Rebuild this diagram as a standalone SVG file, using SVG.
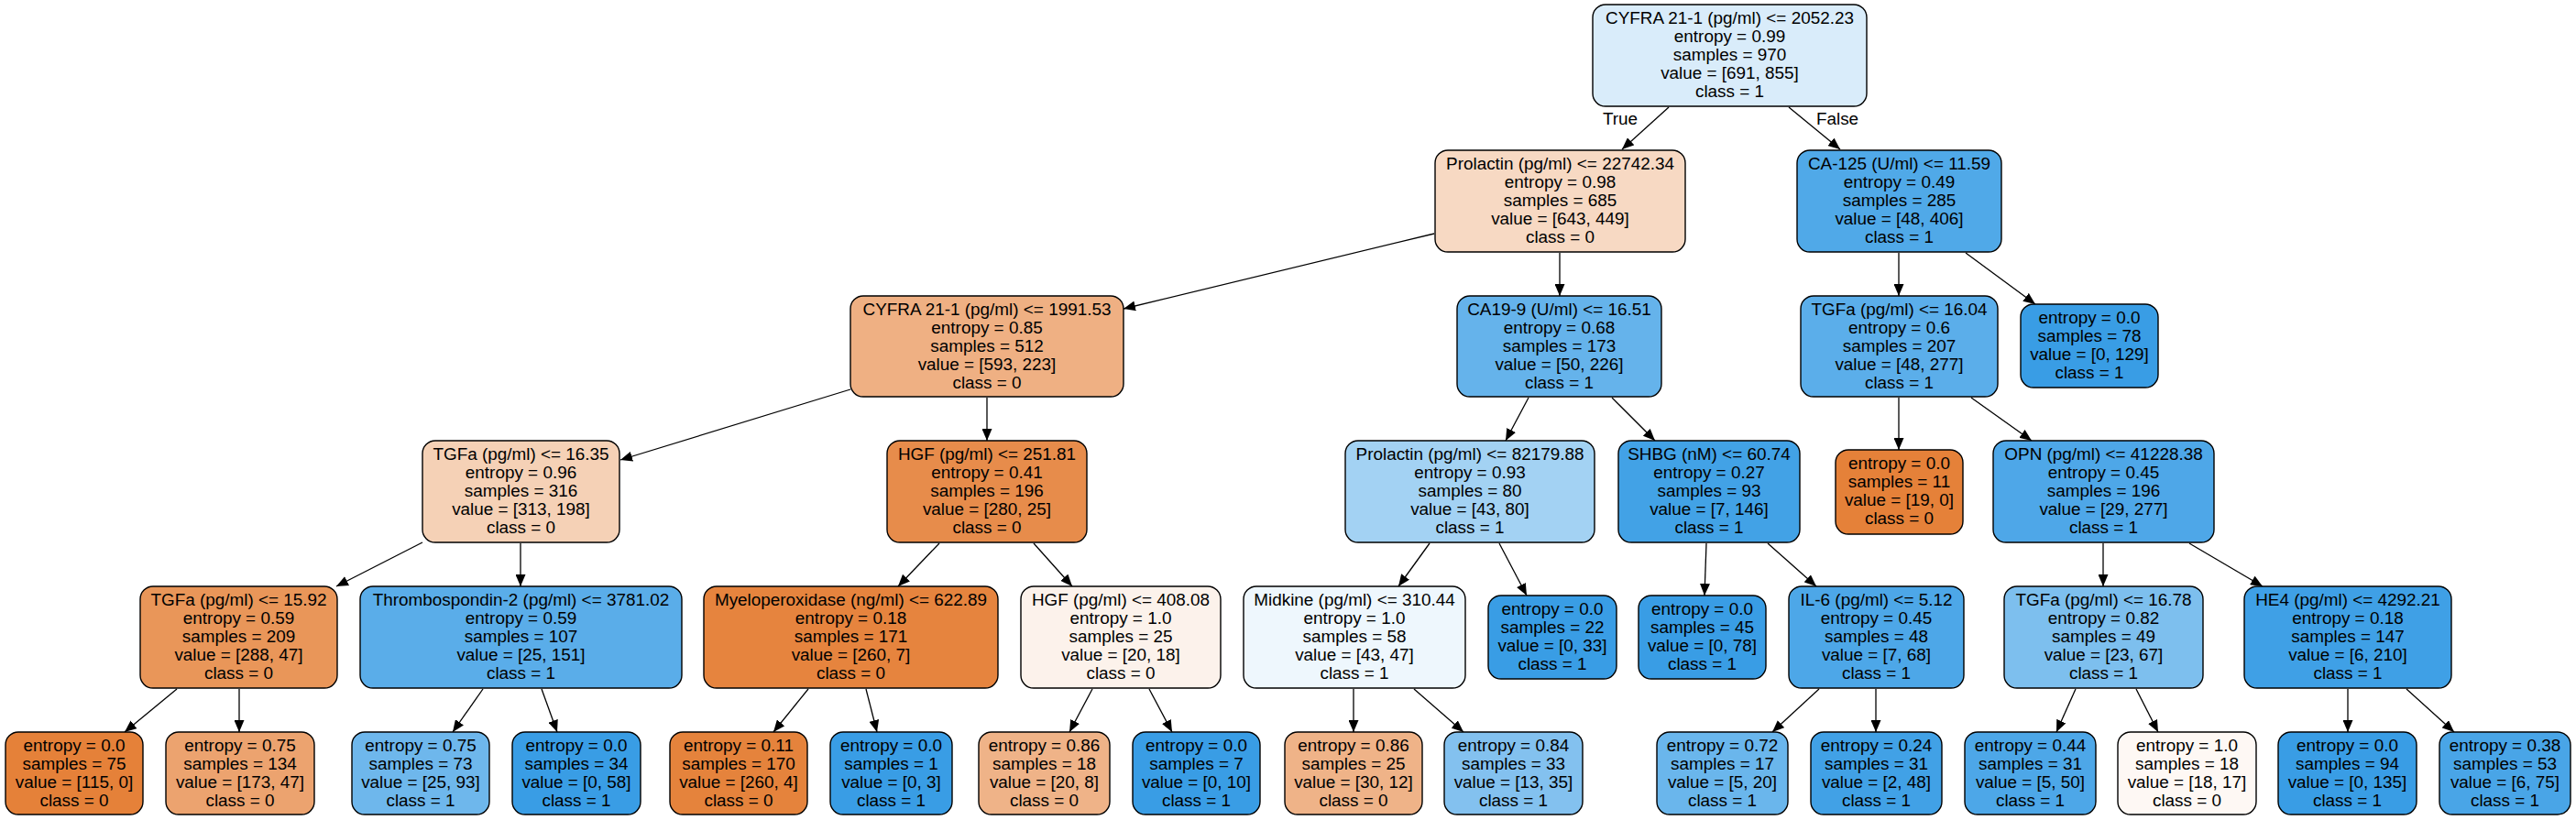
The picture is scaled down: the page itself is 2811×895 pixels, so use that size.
<svg xmlns="http://www.w3.org/2000/svg" width="2811" height="895" viewBox="0 0 2811 895">
<style>
rect.n{stroke:#000;stroke-width:1.4}
text{font-family:"Liberation Sans",Arial,sans-serif;font-size:18.9px;fill:#000;text-anchor:middle}
.e line{stroke:#000;stroke-width:1.3;marker-end:url(#ah)}
</style>
<defs>
<marker id="ah" markerUnits="userSpaceOnUse" markerWidth="14" markerHeight="11" refX="13" refY="5.5" orient="auto">
<path d="M0,0 L13,5.5 L0,11 z" fill="#000"/>
</marker>
</defs>
<rect width="2811" height="895" fill="#fff"/>
<g class="e" id="edges">
<line x1="1821" y1="117" x2="1770" y2="163"/>
<line x1="1952" y1="117" x2="2008" y2="163"/>
<line x1="1565" y1="255" x2="1226" y2="337"/>
<line x1="1702" y1="276" x2="1702" y2="323"/>
<line x1="2072" y1="276" x2="2072" y2="323"/>
<line x1="2145" y1="276" x2="2221" y2="332"/>
<line x1="928" y1="425" x2="677" y2="502"/>
<line x1="1077" y1="434" x2="1077" y2="481"/>
<line x1="1668" y1="434" x2="1643" y2="481"/>
<line x1="1759" y1="434" x2="1806" y2="481"/>
<line x1="2072" y1="434" x2="2072" y2="491"/>
<line x1="2151" y1="434" x2="2217" y2="481"/>
<line x1="461" y1="592" x2="367" y2="640"/>
<line x1="568" y1="593" x2="568" y2="640"/>
<line x1="1025" y1="593" x2="980" y2="640"/>
<line x1="1128" y1="593" x2="1170" y2="640"/>
<line x1="1560" y1="593" x2="1526" y2="640"/>
<line x1="1636" y1="593" x2="1666" y2="650"/>
<line x1="1862" y1="593" x2="1860" y2="650"/>
<line x1="1929" y1="593" x2="1982" y2="640"/>
<line x1="2295" y1="593" x2="2295" y2="640"/>
<line x1="2389" y1="593" x2="2469" y2="640"/>
<line x1="193" y1="752" x2="136" y2="799"/>
<line x1="261" y1="752" x2="261" y2="799"/>
<line x1="527" y1="752" x2="494" y2="799"/>
<line x1="591" y1="752" x2="608" y2="799"/>
<line x1="882" y1="752" x2="844" y2="799"/>
<line x1="945" y1="752" x2="957" y2="799"/>
<line x1="1192" y1="752" x2="1167" y2="799"/>
<line x1="1254" y1="752" x2="1279" y2="799"/>
<line x1="1477" y1="752" x2="1477" y2="799"/>
<line x1="1543" y1="752" x2="1597" y2="799"/>
<line x1="1985" y1="752" x2="1934" y2="799"/>
<line x1="2047" y1="752" x2="2047" y2="799"/>
<line x1="2265" y1="752" x2="2244" y2="799"/>
<line x1="2331" y1="752" x2="2355" y2="799"/>
<line x1="2562" y1="752" x2="2562" y2="799"/>
<line x1="2626" y1="752" x2="2678" y2="799"/>
<text x="1768" y="136">True</text>
<text x="2005" y="136">False</text>
</g>

<g id="node0"><rect class="n" x="1738" y="5" width="299" height="111" rx="14" fill="#d9ecfa"/>
<text x="1887.5" y="26">CYFRA 21-1 (pg/ml) &lt;= 2052.23<tspan x="1887.5" dy="20">entropy = 0.99</tspan><tspan x="1887.5" dy="20">samples = 970</tspan><tspan x="1887.5" dy="20">value = [691, 855]</tspan><tspan x="1887.5" dy="20">class = 1</tspan></text></g>

<g id="node1"><rect class="n" x="1566" y="164" width="273" height="111" rx="14" fill="#f7d9c3"/>
<text x="1702.5" y="185">Prolactin (pg/ml) &lt;= 22742.34<tspan x="1702.5" dy="20">entropy = 0.98</tspan><tspan x="1702.5" dy="20">samples = 685</tspan><tspan x="1702.5" dy="20">value = [643, 449]</tspan><tspan x="1702.5" dy="20">class = 0</tspan></text></g>

<g id="node2"><rect class="n" x="1961" y="164" width="223" height="111" rx="14" fill="#50a9e8"/>
<text x="2072.5" y="185">CA-125 (U/ml) &lt;= 11.59<tspan x="2072.5" dy="20">entropy = 0.49</tspan><tspan x="2072.5" dy="20">samples = 285</tspan><tspan x="2072.5" dy="20">value = [48, 406]</tspan><tspan x="2072.5" dy="20">class = 1</tspan></text></g>

<g id="node3"><rect class="n" x="928" y="323" width="298" height="110" rx="14" fill="#efb083"/>
<text x="1077" y="344">CYFRA 21-1 (pg/ml) &lt;= 1991.53<tspan x="1077" dy="20">entropy = 0.85</tspan><tspan x="1077" dy="20">samples = 512</tspan><tspan x="1077" dy="20">value = [593, 223]</tspan><tspan x="1077" dy="20">class = 0</tspan></text></g>

<g id="node4"><rect class="n" x="1590" y="323" width="223" height="110" rx="14" fill="#65b3eb"/>
<text x="1701.5" y="344">CA19-9 (U/ml) &lt;= 16.51<tspan x="1701.5" dy="20">entropy = 0.68</tspan><tspan x="1701.5" dy="20">samples = 173</tspan><tspan x="1701.5" dy="20">value = [50, 226]</tspan><tspan x="1701.5" dy="20">class = 1</tspan></text></g>

<g id="node5"><rect class="n" x="1965" y="323" width="215" height="110" rx="14" fill="#5baeea"/>
<text x="2072.5" y="344">TGFa (pg/ml) &lt;= 16.04<tspan x="2072.5" dy="20">entropy = 0.6</tspan><tspan x="2072.5" dy="20">samples = 207</tspan><tspan x="2072.5" dy="20">value = [48, 277]</tspan><tspan x="2072.5" dy="20">class = 1</tspan></text></g>

<g id="node6"><rect class="n" x="2205" y="332" width="150" height="91" rx="14" fill="#399de5"/>
<text x="2280" y="353">entropy = 0.0<tspan x="2280" dy="20">samples = 78</tspan><tspan x="2280" dy="20">value = [0, 129]</tspan><tspan x="2280" dy="20">class = 1</tspan></text></g>

<g id="node7"><rect class="n" x="461" y="481" width="215" height="111" rx="14" fill="#f5d1b6"/>
<text x="568.5" y="502">TGFa (pg/ml) &lt;= 16.35<tspan x="568.5" dy="20">entropy = 0.96</tspan><tspan x="568.5" dy="20">samples = 316</tspan><tspan x="568.5" dy="20">value = [313, 198]</tspan><tspan x="568.5" dy="20">class = 0</tspan></text></g>

<g id="node8"><rect class="n" x="968" y="481" width="218" height="111" rx="14" fill="#e78c4b"/>
<text x="1077" y="502">HGF (pg/ml) &lt;= 251.81<tspan x="1077" dy="20">entropy = 0.41</tspan><tspan x="1077" dy="20">samples = 196</tspan><tspan x="1077" dy="20">value = [280, 25]</tspan><tspan x="1077" dy="20">class = 0</tspan></text></g>

<g id="node9"><rect class="n" x="1468" y="481" width="272" height="111" rx="14" fill="#a3d2f3"/>
<text x="1604" y="502">Prolactin (pg/ml) &lt;= 82179.88<tspan x="1604" dy="20">entropy = 0.93</tspan><tspan x="1604" dy="20">samples = 80</tspan><tspan x="1604" dy="20">value = [43, 80]</tspan><tspan x="1604" dy="20">class = 1</tspan></text></g>

<g id="node10"><rect class="n" x="1766" y="481" width="198" height="111" rx="14" fill="#42a2e6"/>
<text x="1865" y="502">SHBG (nM) &lt;= 60.74<tspan x="1865" dy="20">entropy = 0.27</tspan><tspan x="1865" dy="20">samples = 93</tspan><tspan x="1865" dy="20">value = [7, 146]</tspan><tspan x="1865" dy="20">class = 1</tspan></text></g>

<g id="node11"><rect class="n" x="2003" y="491" width="139" height="92" rx="14" fill="#e58139"/>
<text x="2072.5" y="512">entropy = 0.0<tspan x="2072.5" dy="20">samples = 11</tspan><tspan x="2072.5" dy="20">value = [19, 0]</tspan><tspan x="2072.5" dy="20">class = 0</tspan></text></g>

<g id="node12"><rect class="n" x="2175" y="481" width="241" height="111" rx="14" fill="#4ea7e8"/>
<text x="2295.5" y="502">OPN (pg/ml) &lt;= 41228.38<tspan x="2295.5" dy="20">entropy = 0.45</tspan><tspan x="2295.5" dy="20">samples = 196</tspan><tspan x="2295.5" dy="20">value = [29, 277]</tspan><tspan x="2295.5" dy="20">class = 1</tspan></text></g>

<g id="node13"><rect class="n" x="153" y="640" width="215" height="111" rx="14" fill="#e99659"/>
<text x="260.5" y="661">TGFa (pg/ml) &lt;= 15.92<tspan x="260.5" dy="20">entropy = 0.59</tspan><tspan x="260.5" dy="20">samples = 209</tspan><tspan x="260.5" dy="20">value = [288, 47]</tspan><tspan x="260.5" dy="20">class = 0</tspan></text></g>

<g id="node14"><rect class="n" x="393" y="640" width="351" height="111" rx="14" fill="#5aade9"/>
<text x="568.5" y="661">Thrombospondin-2 (pg/ml) &lt;= 3781.02<tspan x="568.5" dy="20">entropy = 0.59</tspan><tspan x="568.5" dy="20">samples = 107</tspan><tspan x="568.5" dy="20">value = [25, 151]</tspan><tspan x="568.5" dy="20">class = 1</tspan></text></g>

<g id="node15"><rect class="n" x="768" y="640" width="321" height="111" rx="14" fill="#e6843e"/>
<text x="928.5" y="661">Myeloperoxidase (ng/ml) &lt;= 622.89<tspan x="928.5" dy="20">entropy = 0.18</tspan><tspan x="928.5" dy="20">samples = 171</tspan><tspan x="928.5" dy="20">value = [260, 7]</tspan><tspan x="928.5" dy="20">class = 0</tspan></text></g>

<g id="node16"><rect class="n" x="1114" y="640" width="218" height="111" rx="14" fill="#fcf2eb"/>
<text x="1223" y="661">HGF (pg/ml) &lt;= 408.08<tspan x="1223" dy="20">entropy = 1.0</tspan><tspan x="1223" dy="20">samples = 25</tspan><tspan x="1223" dy="20">value = [20, 18]</tspan><tspan x="1223" dy="20">class = 0</tspan></text></g>

<g id="node17"><rect class="n" x="1357" y="640" width="242" height="111" rx="14" fill="#eef7fd"/>
<text x="1478" y="661">Midkine (pg/ml) &lt;= 310.44<tspan x="1478" dy="20">entropy = 1.0</tspan><tspan x="1478" dy="20">samples = 58</tspan><tspan x="1478" dy="20">value = [43, 47]</tspan><tspan x="1478" dy="20">class = 1</tspan></text></g>

<g id="node18"><rect class="n" x="1624" y="650" width="140" height="91" rx="14" fill="#399de5"/>
<text x="1694" y="671">entropy = 0.0<tspan x="1694" dy="20">samples = 22</tspan><tspan x="1694" dy="20">value = [0, 33]</tspan><tspan x="1694" dy="20">class = 1</tspan></text></g>

<g id="node19"><rect class="n" x="1788" y="650" width="139" height="91" rx="14" fill="#399de5"/>
<text x="1857.5" y="671">entropy = 0.0<tspan x="1857.5" dy="20">samples = 45</tspan><tspan x="1857.5" dy="20">value = [0, 78]</tspan><tspan x="1857.5" dy="20">class = 1</tspan></text></g>

<g id="node20"><rect class="n" x="1952" y="640" width="191" height="111" rx="14" fill="#4da7e8"/>
<text x="2047.5" y="661">IL-6 (pg/ml) &lt;= 5.12<tspan x="2047.5" dy="20">entropy = 0.45</tspan><tspan x="2047.5" dy="20">samples = 48</tspan><tspan x="2047.5" dy="20">value = [7, 68]</tspan><tspan x="2047.5" dy="20">class = 1</tspan></text></g>

<g id="node21"><rect class="n" x="2187" y="640" width="217" height="111" rx="14" fill="#7dbfee"/>
<text x="2295.5" y="661">TGFa (pg/ml) &lt;= 16.78<tspan x="2295.5" dy="20">entropy = 0.82</tspan><tspan x="2295.5" dy="20">samples = 49</tspan><tspan x="2295.5" dy="20">value = [23, 67]</tspan><tspan x="2295.5" dy="20">class = 1</tspan></text></g>

<g id="node22"><rect class="n" x="2449" y="640" width="226" height="111" rx="14" fill="#3fa0e6"/>
<text x="2562" y="661">HE4 (pg/ml) &lt;= 4292.21<tspan x="2562" dy="20">entropy = 0.18</tspan><tspan x="2562" dy="20">samples = 147</tspan><tspan x="2562" dy="20">value = [6, 210]</tspan><tspan x="2562" dy="20">class = 1</tspan></text></g>

<g id="node23"><rect class="n" x="6" y="799" width="150" height="90" rx="14" fill="#e58139"/>
<text x="81" y="820">entropy = 0.0<tspan x="81" dy="20">samples = 75</tspan><tspan x="81" dy="20">value = [115, 0]</tspan><tspan x="81" dy="20">class = 0</tspan></text></g>

<g id="node24"><rect class="n" x="181" y="799" width="162" height="90" rx="14" fill="#eca36f"/>
<text x="262" y="820">entropy = 0.75<tspan x="262" dy="20">samples = 134</tspan><tspan x="262" dy="20">value = [173, 47]</tspan><tspan x="262" dy="20">class = 0</tspan></text></g>

<g id="node25"><rect class="n" x="384" y="799" width="150" height="90" rx="14" fill="#6eb7ec"/>
<text x="459" y="820">entropy = 0.75<tspan x="459" dy="20">samples = 73</tspan><tspan x="459" dy="20">value = [25, 93]</tspan><tspan x="459" dy="20">class = 1</tspan></text></g>

<g id="node26"><rect class="n" x="559" y="799" width="140" height="90" rx="14" fill="#399de5"/>
<text x="629" y="820">entropy = 0.0<tspan x="629" dy="20">samples = 34</tspan><tspan x="629" dy="20">value = [0, 58]</tspan><tspan x="629" dy="20">class = 1</tspan></text></g>

<g id="node27"><rect class="n" x="731" y="799" width="150" height="90" rx="14" fill="#e5833c"/>
<text x="806" y="820">entropy = 0.11<tspan x="806" dy="20">samples = 170</tspan><tspan x="806" dy="20">value = [260, 4]</tspan><tspan x="806" dy="20">class = 0</tspan></text></g>

<g id="node28"><rect class="n" x="906" y="799" width="133" height="90" rx="14" fill="#399de5"/>
<text x="972.5" y="820">entropy = 0.0<tspan x="972.5" dy="20">samples = 1</tspan><tspan x="972.5" dy="20">value = [0, 3]</tspan><tspan x="972.5" dy="20">class = 1</tspan></text></g>

<g id="node29"><rect class="n" x="1068" y="799" width="143" height="90" rx="14" fill="#efb388"/>
<text x="1139.5" y="820">entropy = 0.86<tspan x="1139.5" dy="20">samples = 18</tspan><tspan x="1139.5" dy="20">value = [20, 8]</tspan><tspan x="1139.5" dy="20">class = 0</tspan></text></g>

<g id="node30"><rect class="n" x="1236" y="799" width="139" height="90" rx="14" fill="#399de5"/>
<text x="1305.5" y="820">entropy = 0.0<tspan x="1305.5" dy="20">samples = 7</tspan><tspan x="1305.5" dy="20">value = [0, 10]</tspan><tspan x="1305.5" dy="20">class = 1</tspan></text></g>

<g id="node31"><rect class="n" x="1402" y="799" width="150" height="90" rx="14" fill="#efb388"/>
<text x="1477" y="820">entropy = 0.86<tspan x="1477" dy="20">samples = 25</tspan><tspan x="1477" dy="20">value = [30, 12]</tspan><tspan x="1477" dy="20">class = 0</tspan></text></g>

<g id="node32"><rect class="n" x="1576" y="799" width="151" height="90" rx="14" fill="#83c1ef"/>
<text x="1651.5" y="820">entropy = 0.84<tspan x="1651.5" dy="20">samples = 33</tspan><tspan x="1651.5" dy="20">value = [13, 35]</tspan><tspan x="1651.5" dy="20">class = 1</tspan></text></g>

<g id="node33"><rect class="n" x="1808" y="799" width="143" height="90" rx="14" fill="#6ab6ec"/>
<text x="1879.5" y="820">entropy = 0.72<tspan x="1879.5" dy="20">samples = 17</tspan><tspan x="1879.5" dy="20">value = [5, 20]</tspan><tspan x="1879.5" dy="20">class = 1</tspan></text></g>

<g id="node34"><rect class="n" x="1976" y="799" width="143" height="90" rx="14" fill="#41a1e6"/>
<text x="2047.5" y="820">entropy = 0.24<tspan x="2047.5" dy="20">samples = 31</tspan><tspan x="2047.5" dy="20">value = [2, 48]</tspan><tspan x="2047.5" dy="20">class = 1</tspan></text></g>

<g id="node35"><rect class="n" x="2144" y="799" width="143" height="90" rx="14" fill="#4da7e8"/>
<text x="2215.5" y="820">entropy = 0.44<tspan x="2215.5" dy="20">samples = 31</tspan><tspan x="2215.5" dy="20">value = [5, 50]</tspan><tspan x="2215.5" dy="20">class = 1</tspan></text></g>

<g id="node36"><rect class="n" x="2311" y="799" width="151" height="90" rx="14" fill="#fef8f4"/>
<text x="2386.5" y="820">entropy = 1.0<tspan x="2386.5" dy="20">samples = 18</tspan><tspan x="2386.5" dy="20">value = [18, 17]</tspan><tspan x="2386.5" dy="20">class = 0</tspan></text></g>

<g id="node37"><rect class="n" x="2486" y="799" width="151" height="90" rx="14" fill="#399de5"/>
<text x="2561.5" y="820">entropy = 0.0<tspan x="2561.5" dy="20">samples = 94</tspan><tspan x="2561.5" dy="20">value = [0, 135]</tspan><tspan x="2561.5" dy="20">class = 1</tspan></text></g>

<g id="node38"><rect class="n" x="2662" y="799" width="143" height="90" rx="14" fill="#49a5e7"/>
<text x="2733.5" y="820">entropy = 0.38<tspan x="2733.5" dy="20">samples = 53</tspan><tspan x="2733.5" dy="20">value = [6, 75]</tspan><tspan x="2733.5" dy="20">class = 1</tspan></text></g>
</svg>
